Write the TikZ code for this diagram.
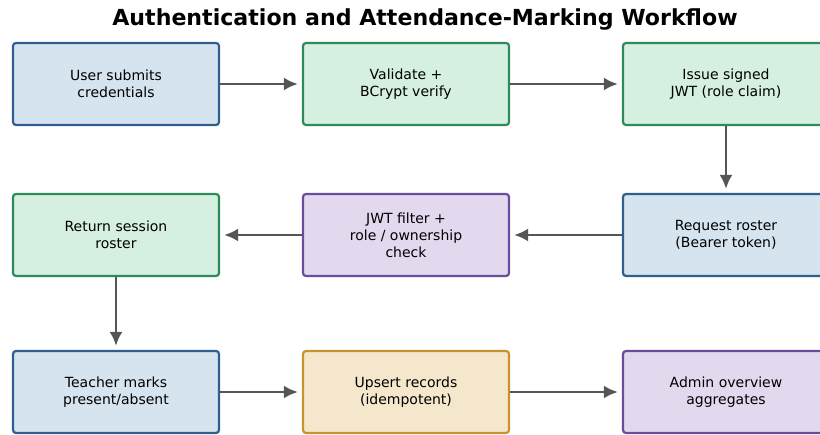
\documentclass[tikz,border=0pt]{standalone}
\usepackage{fontspec}
\setmainfont{DejaVu Sans}
\usetikzlibrary{arrows.meta}
\definecolor{bluefill}{HTML}{D6E4F0}
\definecolor{blueline}{HTML}{2F5F8F}
\definecolor{greenfill}{HTML}{D5EFE0}
\definecolor{greenline}{HTML}{2E8B57}
\definecolor{purplefill}{HTML}{E3D9EF}
\definecolor{purpleline}{HTML}{6A4C9C}
\definecolor{orangefill}{HTML}{F5E7CC}
\definecolor{orangeline}{HTML}{C8922E}
\definecolor{arrowgray}{HTML}{555555}
\tikzstyle{stepbox}=[shape=rectangle, rounded corners=3pt, line width=2.2pt,
                  minimum height=82pt, minimum width=206pt, align=center,
                  font=\fontsize{14}{16.8}\selectfont]
\tikzstyle{bbox}=[stepbox, fill=bluefill, draw=blueline]
\tikzstyle{gbox}=[stepbox, fill=greenfill, draw=greenline]
\tikzstyle{pbox}=[stepbox, fill=purplefill, draw=purpleline]
\tikzstyle{obox}=[stepbox, fill=orangefill, draw=orangeline]
\tikzstyle{flow}=[draw=arrowgray, line width=2.6pt, shorten >=4pt,
                  -{Latex[length=14pt,width=13pt]}]

\begin{document}
\begin{tikzpicture}[x=1pt, y=-1pt]

\clip (0,0) rectangle (820,435);

% title
\node[font=\fontsize{22.1}{26}\selectfont\bfseries] (title) at (425,19)
  {Authentication and Attendance-Marking Workflow};

% nodes
\node[bbox] (submit) at (116,84) {User submits\\credentials};
\node[gbox] (verify) at (406,84) {Validate +\\BCrypt verify};
\node[gbox] (issue) at (726,84) {Issue signed\\JWT (role claim)};
\node[bbox] (request) at (726,235) {Request roster\\(Bearer token)};
\node[pbox] (filter) at (406,235) {JWT filter +\\role / ownership\\check};
\node[gbox] (roster) at (116,235) {Return session\\roster};
\node[bbox] (marks) at (116,392) {Teacher marks\\present/absent};
\node[obox] (upsert) at (406,392) {Upsert records\\(idempotent)};
\node[pbox] (admin) at (726,392) {Admin overview\\aggregates};

% paths
\draw[flow] (submit) -- (verify);
\draw[flow] (verify) -- (issue);
\draw[flow] (issue) -- (request);
\draw[flow] (request) -- (filter);
\draw[flow] (filter) -- (roster);
\draw[flow] (roster) -- (marks);
\draw[flow] (marks) -- (upsert);
\draw[flow] (upsert) -- (admin);

\end{tikzpicture}
\end{document}
